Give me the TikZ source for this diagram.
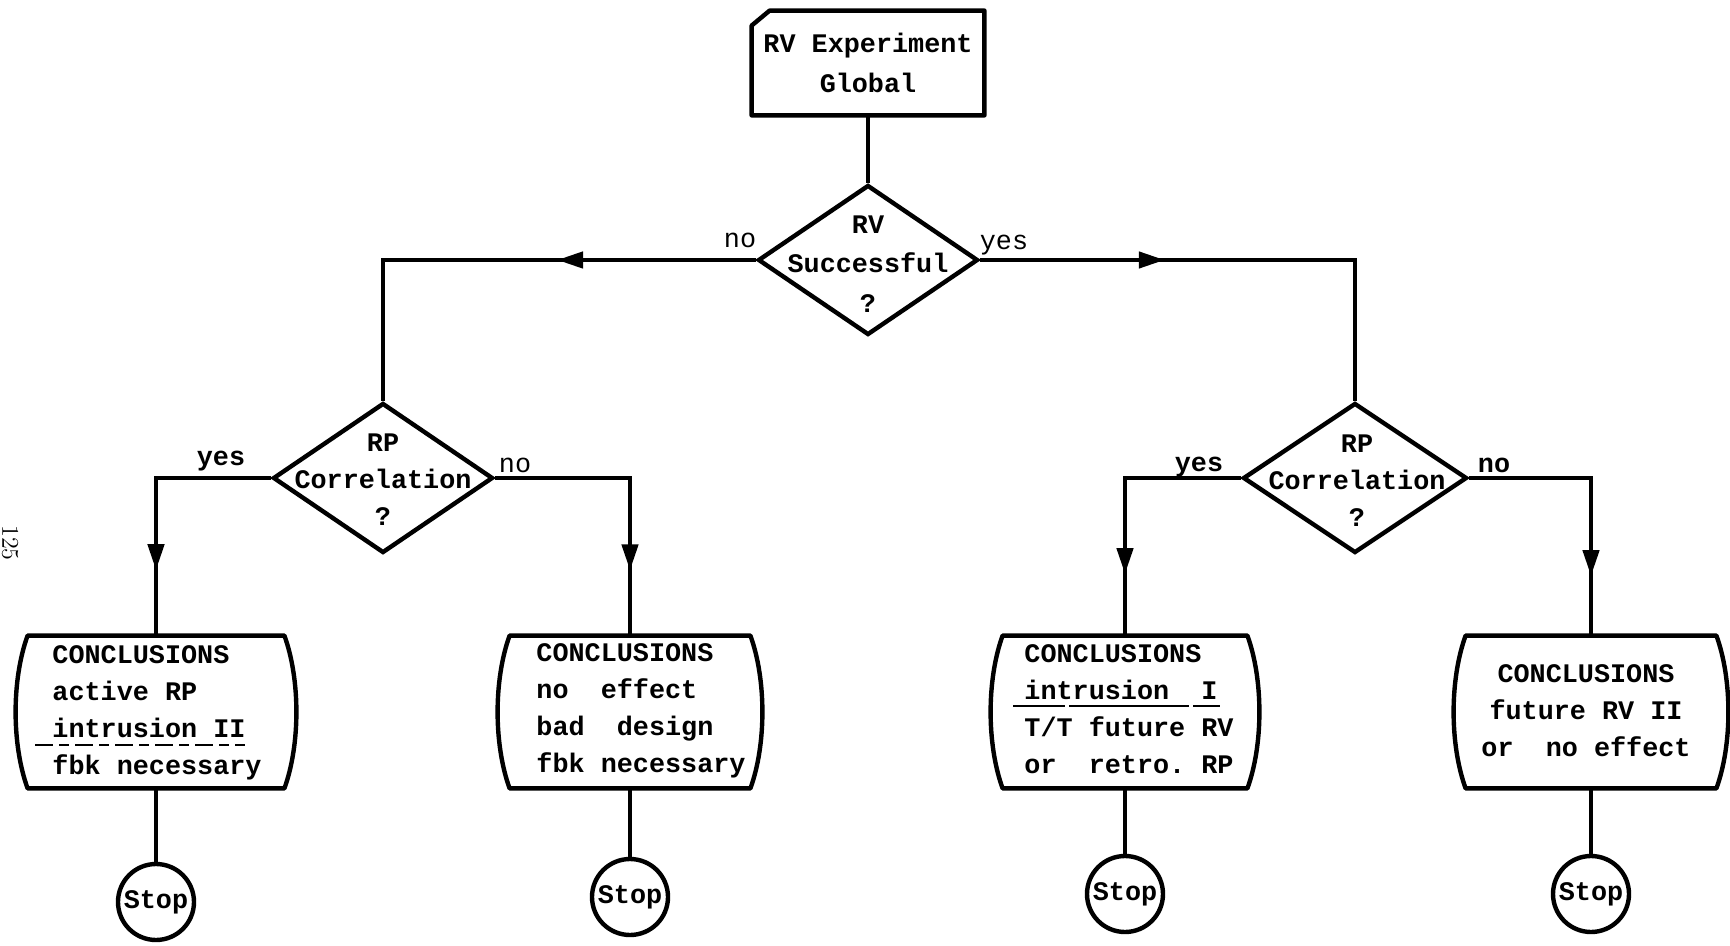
\documentclass[tikz,border=0pt]{standalone}
\usepackage{fontspec}
\newfontfamily\tw{Liberation Mono}
\usetikzlibrary{shapes.geometric,arrows.meta,decorations.markings,calc}
\frenchspacing

% outline of a conclusions box: straight top and bottom, bowed sides
\newcommand\barrelframe[1]{%
  \draw[frame] (#1.north west) -- (#1.north east)
    .. controls +(8pt,-22pt) and +(8pt,22pt) .. (#1.south east)
    -- (#1.south west)
    .. controls +(-8pt,22pt) and +(-8pt,-22pt) .. (#1.north west) -- cycle;}

\tikzset{
  frame/.style={line width=2.2pt, line join=round},
  tt/.style={font=\tw\bfseries\fontsize{13.4pt}{18.5pt}\selectfont},
  ttlight/.style={font=\tw\fontsize{13.4pt}{18.5pt}\selectfont},
  decision/.style={diamond, draw, line width=2.2pt, minimum width=110pt,
    minimum height=75pt, inner sep=0pt},
  dtext/.style={tt, align=center, inner sep=0pt},
  barrel/.style={rectangle, minimum width=#1, minimum height=76pt, inner sep=0pt},
  ctext/.style={tt, align=left, inner sep=0pt},
  stopnode/.style={circle, draw, line width=2.2pt, minimum size=38pt, inner sep=0pt, tt},
  link/.style={line width=2.2pt},
  flowarrow/.style={postaction={decorate}, decoration={markings,
    mark=at position #1 with {\arrow{Triangle[length=13pt,width=8pt]}}}},
  uline/.style={line width=1.3pt},
}

\begin{document}
\begin{tikzpicture}[x=0.5pt, y=-0.5pt]
\useasboundingbox (0,0) rectangle (1730,946);

% page number at the margin
\node[font=\fontsize{12pt}{12pt}\selectfont, rotate=-90, inner sep=0pt] (pg) at (10,543) {125};

% start card
\node[rectangle, minimum width=116pt, minimum height=52pt, inner sep=0pt,
      tt, align=center] (t) at (868,63) {RV Experiment\\[1.5pt]Global};
\draw[frame] ($(t.north west)+(9pt,0)$) -- (t.north east) -- (t.south east)
  -- (t.south west) -- ($(t.north west)+(0,-7.5pt)$) -- cycle;

% decisions
\node[decision] (d0) at (868,260) {};
\node[dtext] (d0t) at (868,264) {RV\\[0.8pt]Successful\\[1.5pt]?};
\node[decision] (d1) at (383,478) {};
\node[dtext] (d1t) at (383,480) {RP\\Correlation\\?};
\node[decision, minimum width=112pt] (d2) at (1355,478) {};
\node[dtext] (d2t) at (1357,481) {RP\\Correlation\\?};

% conclusions
\node[barrel=128pt] (c1) at (156,712) {};
\barrelframe{c1}
\node[ctext] (ct1) at (157,713) {CONCLUSIONS\\active RP\\intrusion II\\fbk necessary};
\draw[uline, dash pattern=on 9pt off 3pt on 5pt off 3pt] (35,745) -- (245,745);

\node[barrel=120pt] (c2) at (630,712) {};
\barrelframe{c2}
\node[ctext] (ct2) at (641,711) {CONCLUSIONS\\no\ \ effect\\bad\ \ design\\fbk necessary};

\node[barrel=122pt] (c3) at (1125,712) {};
\barrelframe{c3}
\node[ctext] (ct3) at (1129,709) {CONCLUSIONS\\intrusion\ \ I\\T/T future RV\\or\ \ retro. RP};
\draw[uline, dash pattern=on 26pt off 2pt on 60pt off 2pt] (1013,706) -- (1220,706);

\node[barrel=125pt] (c4) at (1591,712) {};
\barrelframe{c4}
\node[tt, align=center, inner sep=0pt] (ct4) at (1586,711) {CONCLUSIONS\\future RV II\\or\ \ no effect};

% terminals
\node[stopnode] (s1) at (156,902) {Stop};
\node[stopnode] (s2) at (630,897) {Stop};
\node[stopnode] (s3) at (1125,894) {Stop};
\node[stopnode] (s4) at (1591,894) {Stop};

% connectors
\draw[link] (t.south) -- (d0.north);
\draw[link, flowarrow=0.387] (d0.west) -| (d1.north);
\draw[link, flowarrow=0.358] (d0.east) -| (d2.north);
\draw[link, flowarrow=0.76] (d1.west) -| (c1.north);
\draw[link, flowarrow=0.777] (d1.east) -| (c2.north);
\draw[link, flowarrow=0.775] (d2.west) -| (c3.north);
\draw[link, flowarrow=0.787] (d2.east) -| (c4.north);
\draw[link] (c1.south) -- (s1.north);
\draw[link] (c2.south) -- (s2.north);
\draw[link] (c3.south) -- (s3.north);
\draw[link] (c4.south) -- (s4.north);

% branch labels
\node[ttlight] (lno0) at (740,240) {no};
\node[ttlight] (lyes0) at (1004,245) {yes};
\node[tt] (lyes1) at (221,461) {yes};
\node[ttlight] (lno1) at (515,465) {no};
\node[tt] (lyes2) at (1199,467) {yes};
\node[tt] (lno2) at (1494,465) {no};
\end{tikzpicture}
\end{document}
